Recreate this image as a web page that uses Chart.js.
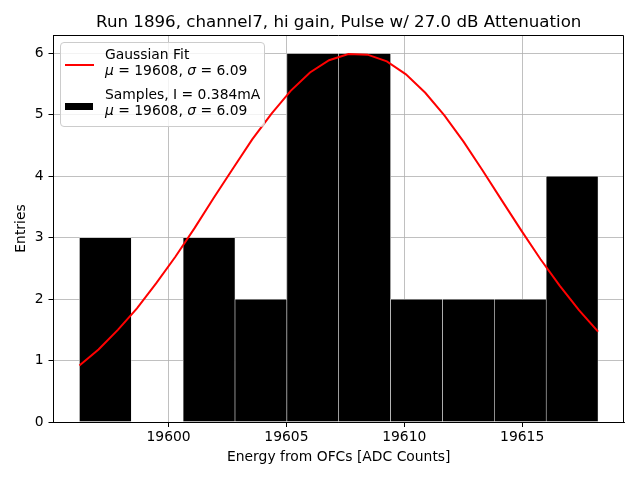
<!DOCTYPE html>
<html>
<head>
<meta charset="utf-8">
<script src="https://cdn.jsdelivr.net/npm/chart.js@4.4.0/dist/chart.umd.min.js"></script>
<style>
    body { margin: 0; background: #fff; }
    #wrap { position: relative; width: 640px; height: 480px; font-family: "DejaVu Sans", sans-serif; }
    #legend {
        position: absolute; left: 60px; top: 42px; width: 203px; height: 83px;
        border: 1px solid #cccccc; border-radius: 4px; background: rgba(255, 255, 255, 0.8);
    }
    .lg-text { position: absolute; left: 44px; font-size: 13.89px; line-height: 16px; white-space: nowrap; color: #000; }
    .lg-line { position: absolute; left: 4px; top: 21px; width: 29px; height: 2px; background: #ff0000; }
    .lg-box { position: absolute; left: 4px; top: 60px; width: 28px; height: 7px; background: #000; }
</style>
</head>
<body>
<div id="wrap">
    <canvas id="chart" width="640" height="480"></canvas>
    <div id="legend">
        <div class="lg-line"></div>
        <div class="lg-text" style="top:3px">Gaussian Fit</div>
        <div class="lg-text" style="top:19px"><i>μ</i> = 19608, <i>σ</i> = 6.09</div>
        <div class="lg-box"></div>
        <div class="lg-text" style="top:43px">Samples, I = 0.384mA</div>
        <div class="lg-text" style="top:59px"><i>μ</i> = 19608, <i>σ</i> = 6.09</div>
    </div>
</div>
<script>
const titleText = 'Run 1896, channel7, hi gain, Pulse w/ 27.0 dB Attenuation';

// histogram bins (centres) and entries
const binCenters = [19597.32, 19599.52, 19601.72, 19603.92, 19606.12, 19608.32, 19610.52, 19612.72, 19614.92, 19617.12];
const binCounts = [3, 0, 3, 2, 6, 6, 2, 2, 2, 4];

// gaussian fit curve
const fitX = [19596.22, 19597.03, 19597.85, 19598.66, 19599.48, 19600.29, 19601.11, 19601.92, 19602.74, 19603.55,
              19604.37, 19605.18, 19606.00, 19606.81, 19607.63, 19608.44, 19609.26, 19610.07, 19610.89, 19611.70,
              19612.52, 19613.33, 19614.15, 19614.96, 19615.78, 19616.59, 19617.41, 19618.22];
const fitY = [0.92, 1.18, 1.50, 1.85, 2.26, 2.69, 3.16, 3.65, 4.13, 4.60,
              5.02, 5.39, 5.69, 5.89, 5.99, 5.98, 5.87, 5.66, 5.36, 4.99,
              4.56, 4.09, 3.60, 3.12, 2.65, 2.22, 1.82, 1.47];

const xTickValues = [19600, 19605, 19610, 19615];
const yTickValues = [0, 1, 2, 3, 4, 5, 6];

const tickFont = { family: 'DejaVu Sans', size: 13.89 };

const frameAndTitle = {
    id: 'frameAndTitle',
    afterDraw(chart) {
        const ctx = chart.ctx;
        const a = chart.chartArea;
        ctx.save();
        ctx.strokeStyle = '#000';
        ctx.lineWidth = 1;
        ctx.beginPath();
        ctx.moveTo(a.left, a.top + 0.5);
        ctx.lineTo(a.right - 0.5, a.top + 0.5);
        ctx.lineTo(a.right - 0.5, a.bottom);
        ctx.stroke();
        ctx.font = '16.67px "DejaVu Sans"';
        ctx.fillStyle = '#000';
        ctx.textAlign = 'center';
        ctx.textBaseline = 'alphabetic';
        ctx.fillText(titleText, (a.left + a.right) / 2, 26.7);
        ctx.restore();
    }
};

new Chart(document.getElementById('chart').getContext('2d'), {
    type: 'bar',
    data: {
        datasets: [{
            type: 'line',
            label: 'Gaussian Fit',
            data: fitX.map((x, i) => ({ x: x, y: fitY[i] })),
            borderColor: '#ff0000',
            borderWidth: 2,
            pointRadius: 0,
            tension: 0,
            fill: false,
            order: 0
        }, {
            type: 'bar',
            label: 'Samples',
            data: binCenters.map((x, i) => ({ x: x, y: binCounts[i] })),
            backgroundColor: '#000000',
            borderColor: '#e8e8e8',
            borderWidth: 0.6,
            borderSkipped: false,
            barPercentage: 1.0,
            categoryPercentage: 1.0,
            order: 1
        }]
    },
    options: {
        responsive: false,
        animation: false,
        events: [],
        layout: { padding: { left: 0, top: 35, right: 16, bottom: 0 } },
        plugins: {
            legend: { display: false },
            tooltip: { enabled: false }
        },
        scales: {
            x: {
                type: 'linear',
                min: 19595.12,
                max: 19619.32,
                offset: false,
                z: 1,
                afterBuildTicks: (scale) => { scale.ticks = xTickValues.map(v => ({ value: v })); },
                afterFit: (scale) => { scale.height = 58; },
                grid: { offset: false, color: '#b0b0b0', lineWidth: 0.8, tickColor: '#000', tickLength: 5, tickWidth: 1 },
                border: { display: true, color: '#000', width: 1 },
                ticks: { font: tickFont, color: '#000', padding: 2, maxRotation: 0, callback: (v) => String(v) },
                title: { display: true, text: 'Energy from OFCs [ADC Counts]', font: tickFont, color: '#000', padding: { top: 0, bottom: 14 } }
            },
            y: {
                min: 0,
                max: 6.3,
                z: 1,
                afterBuildTicks: (scale) => { scale.ticks = yTickValues.map(v => ({ value: v })); },
                afterFit: (scale) => { scale.width = 53.5; },
                grid: { color: '#b0b0b0', lineWidth: 0.8, tickColor: '#000', tickLength: 5, tickWidth: 1 },
                border: { display: true, color: '#000', width: 1 },
                ticks: { font: tickFont, color: '#000', padding: 5, callback: (v) => String(v) },
                title: { display: true, text: 'Entries', font: tickFont, color: '#000', padding: { top: 13, bottom: 0 } }
            }
        }
    },
    plugins: [frameAndTitle]
});
</script>
</body>
</html>
